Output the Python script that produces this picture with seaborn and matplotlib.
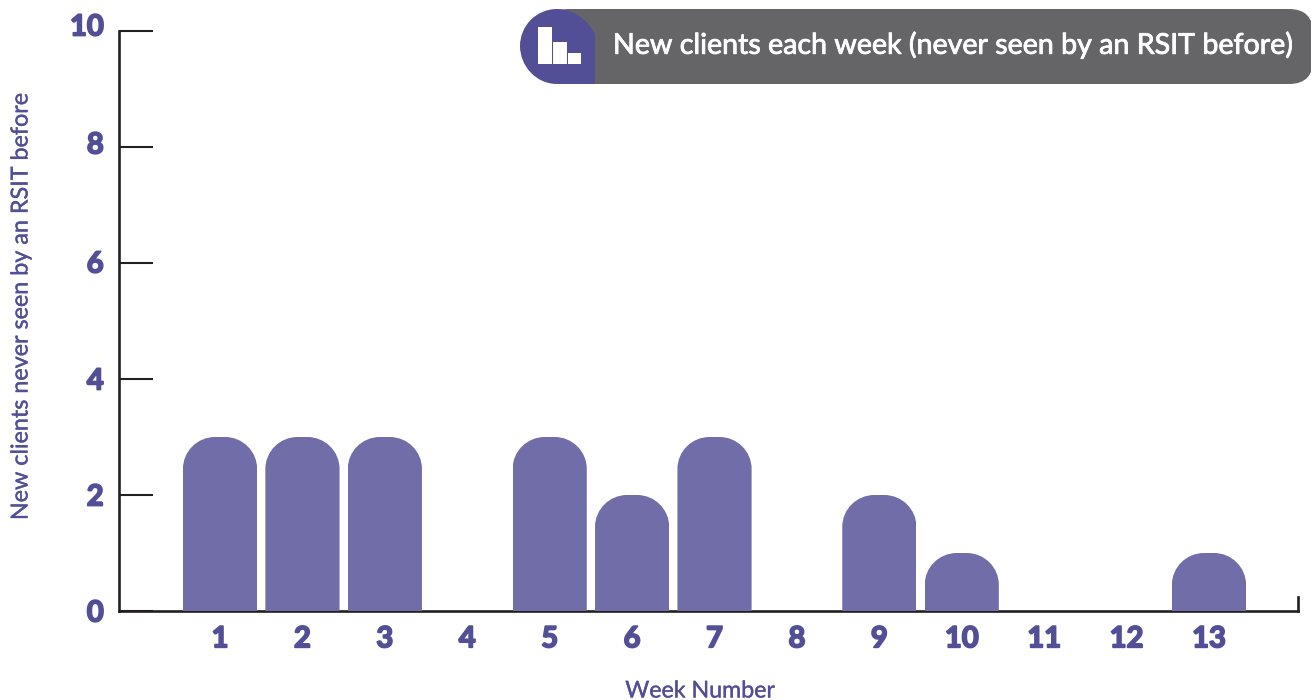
import numpy as np
import pandas as pd
import seaborn as sns
import matplotlib
matplotlib.use("Agg")
import matplotlib.pyplot as plt
import matplotlib.patheffects as pe
from matplotlib.path import Path
from matplotlib.patches import PathPatch, FancyBboxPatch, Rectangle
from matplotlib.transforms import Affine2D, ScaledTranslation

weeks = ["1", "2", "3", "4", "5", "6", "7", "8", "9", "10", "11", "12", "13"]
new_clients = [3, 3, 3, 0, 3, 2, 3, 0, 2, 1, 0, 0, 1]
y_ticks = [0, 2, 4, 6, 8, 10]
x_title = "Week Number"
y_title = "New clients never seen by an RSIT before"
banner_text = "New clients each week (never seen by an RSIT before)"

W, H = 1311, 700
bar_color = "#716da8"
ink = "#534f96"
grey = "#656567"
axis_color = "#231f20"

sns.set_style("white")
plt.rcParams["font.family"] = ["Lato", "DejaVu Sans"]


def rounded_top(x0, x1, y1, rx, ry):
    # bar outline with round shoulders, used as a clip for the seaborn bar
    k = 0.5523
    verts = [(x0, 0), (x0, y1 - ry),
             (x0, y1 - ry + k * ry), (x0 + rx - k * rx, y1), (x0 + rx, y1),
             (x1 - rx, y1),
             (x1 - rx + k * rx, y1), (x1, y1 - ry + k * ry), (x1, y1 - ry),
             (x1, 0), (x0, 0)]
    codes = [Path.MOVETO, Path.LINETO, Path.CURVE4, Path.CURVE4, Path.CURVE4,
             Path.LINETO, Path.CURVE4, Path.CURVE4, Path.CURVE4,
             Path.LINETO, Path.CLOSEPOLY]
    return Path(verts, codes)


def thicken(text, width, color):
    text.set_path_effects([pe.withStroke(linewidth=width, foreground=color)])


df = pd.DataFrame({"week": weeks, "clients": new_clients})

fig = plt.figure(figsize=(W / 100, H / 100), dpi=100)
ax = fig.add_axes([119 / W, 1 - 611 / H, (1298 - 119) / W, 580 / H])
sns.barplot(data=df, x="week", y="clients", color=bar_color, saturation=1,
            width=0.9, linewidth=0, ax=ax)

ax.set_xlim(-1.226, 13.08)
ax.set_ylim(0, 10)
for bar in ax.patches:
    if bar.get_height() > 0:
        x0 = bar.get_x()
        clip = rounded_top(x0, x0 + bar.get_width(), bar.get_height(), 0.39, 0.55)
        bar.set_clip_path(clip, ax.transData)
    bar.set_zorder(3)

sns.despine(ax=ax)
for side in ["left", "bottom"]:
    ax.spines[side].set_linewidth(1.9)
    ax.spines[side].set_color(axis_color)
ax.set_yticks(y_ticks)
ax.tick_params(axis="y", direction="in", length=24.5, width=1.5, color=axis_color,
               left=True, pad=11, labelsize=21, labelcolor=ink)
ax.tick_params(axis="x", length=0, pad=11, labelsize=21, labelcolor=ink)
for lab in ax.get_xticklabels() + ax.get_yticklabels():
    lab.set_fontweight("bold")
    thicken(lab, 1.3, ink)

# the upper y labels sit a little above their ticks in the original
for lab, shift in zip(ax.get_yticklabels(), [0, 0, 0, 1, 4, 6]):
    lab.set_transform(lab.get_transform() + ScaledTranslation(0, shift / 100, fig.dpi_scale_trans))
ax.set_xlabel("")
ax.set_ylabel("")

# small end tick on the right of the x axis
ax.plot([1, 1], [0, 14 / 580], transform=ax.transAxes, color=axis_color, lw=1.9,
        clip_on=False, solid_capstyle="projecting")

xt = fig.text(700 / W, 1 - 691 / H, x_title, color=ink, fontsize=16.7, ha="center", va="center")
yt = fig.text(21 / W, 1 - 306 / H, y_title, color=ink, fontsize=16.8, rotation=90,
              ha="center", va="center")
thicken(xt, 0.25, ink)
thicken(yt, 0.25, ink)

# banner, drawn in pixels
px = Affine2D().scale(1 / W, -1 / H).translate(0, 1) + fig.transFigure
fig.add_artist(FancyBboxPatch((545, 9), 768, 75, boxstyle="round,pad=0,rounding_size=24",
                              fc=grey, ec="none", transform=px))
purple = Path(
    [(595, 84), (557, 84), (536, 84), (520, 66), (520, 46), (520, 26), (536, 9), (557, 9),
     (577, 9), (590, 24), (595, 34), (595, 84)],
    [Path.MOVETO, Path.LINETO, Path.CURVE4, Path.CURVE4, Path.CURVE4, Path.CURVE4, Path.CURVE4,
     Path.CURVE4, Path.CURVE4, Path.CURVE4, Path.CURVE4, Path.CLOSEPOLY])
fig.add_artist(PathPatch(purple, fc=ink, ec="none", transform=px))
for x0, y0, w, h in [(538, 27, 14, 37), (553, 42, 14, 22), (568, 53, 13, 11)]:
    fig.add_artist(Rectangle((x0, y0), w, h, fc="white", ec="none", transform=px))
bt = fig.text(613 / W, 1 - 45 / H, banner_text, color="white", fontsize=20.6,
              ha="left", va="center")
thicken(bt, 0.6, "white")

fig.savefig("out.png", dpi=100)
